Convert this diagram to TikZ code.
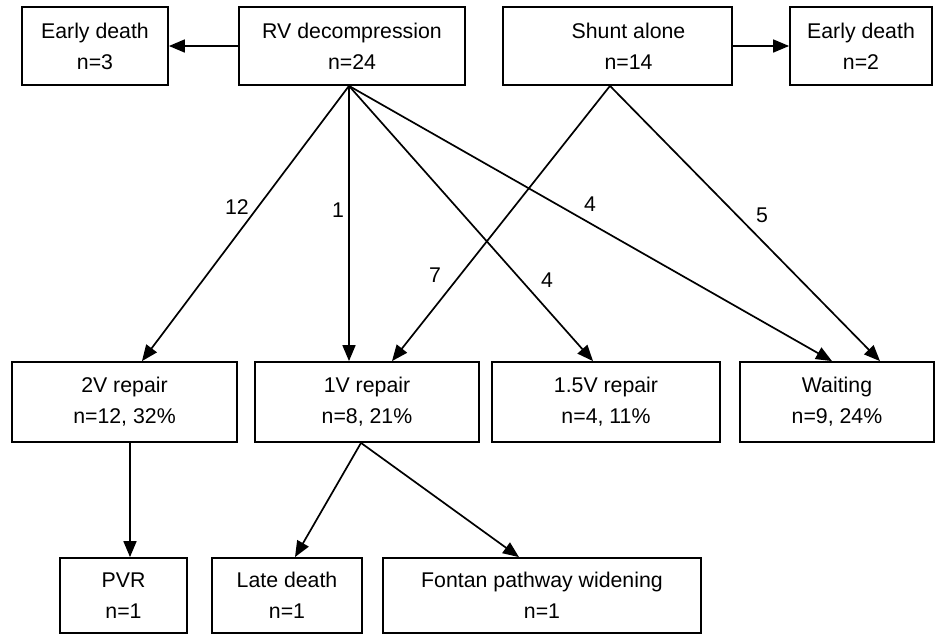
\documentclass[tikz,border=0pt]{standalone}
\usepackage{fontspec}
\setmainfont{Liberation Sans}
\usetikzlibrary{arrows.meta}
\begin{document}
\begin{tikzpicture}[x=1pt,y=-1pt,
  box/.style={draw=black,line width=1.8pt,rectangle,inner sep=0pt,align=center,
    font=\fontsize{21.3}{31}\selectfont},
  arr/.style={line width=1.7pt,-{Triangle[length=16pt,width=13pt]}},
  lbl/.style={font=\fontsize{21.3}{25}\selectfont,inner sep=0pt}]
\useasboundingbox (0,0) rectangle (935,635);
% top row
\node[box,minimum width=146pt,minimum height=78pt] (ed3) at (95,46) {Early death\\n=3};
\node[box,minimum width=226pt,minimum height=78pt] (rv) at (352,46) {RV decompression\\n=24};
\node[box,minimum width=229pt,minimum height=78pt] (sh) at (617.5,46) {\hspace*{22pt}Shunt alone\\\hspace*{22pt}n=14};
\node[box,minimum width=142pt,minimum height=78pt] (ed2) at (861,46) {Early death\\n=2};
% middle row
\node[box,minimum width=225pt,minimum height=80pt] (tv) at (124.5,402) {2V repair\\n=12, 32\%};
\node[box,minimum width=224pt,minimum height=80pt] (ov) at (367,402) {1V repair\\n=8, 21\%};
\node[box,minimum width=228pt,minimum height=80pt] (hv) at (606,402) {1.5V repair\\n=4, 11\%};
\node[box,minimum width=194pt,minimum height=80pt] (wt) at (837,402) {Waiting\\n=9, 24\%};
% bottom row
\node[box,minimum width=127pt,minimum height=75pt] (pvr) at (123.5,595.5) {PVR\\n=1};
\node[box,minimum width=150pt,minimum height=75pt] (ld) at (287,595.5) {Late death\\n=1};
\node[box,minimum width=318pt,minimum height=75pt] (fo) at (542,595.5) {Fontan pathway widening\\n=1};
% connectors
\draw[arr] (rv.west) -- (ed3.east);
\draw[arr] (sh.east) -- (ed2.west);
\draw[arr] ([xshift=-3pt]rv.south) -- ([xshift=17.5pt]tv.north);
\draw[arr] ([xshift=-3pt]rv.south) -- ([xshift=-18pt]ov.north);
\draw[arr] ([xshift=-3pt]rv.south) -- ([xshift=-13pt]hv.north);
\draw[arr] ([xshift=-3pt]rv.south) -- ([xshift=-5pt]wt.north);
\draw[arr] ([xshift=-7.5pt]sh.south) -- ([xshift=25pt]ov.north);
\draw[arr] ([xshift=-7.5pt]sh.south) -- ([xshift=43pt]wt.north);
\draw[arr] ([xshift=5.5pt]tv.south) -- ([xshift=6.5pt]pvr.north);
\draw[arr] ([xshift=-6pt]ov.south) -- ([xshift=8pt]ld.north);
\draw[arr] ([xshift=-6pt]ov.south) -- ([xshift=-23pt]fo.north);
% labels
\node[lbl] (n12) at (237,207) {12};
\node[lbl] (n1) at (338,210) {1};
\node[lbl] (n4a) at (590,204) {4};
\node[lbl] (n7) at (435,275) {7};
\node[lbl] (n4b) at (547,280) {4};
\node[lbl] (n5) at (762,215) {5};
\end{tikzpicture}
\end{document}
